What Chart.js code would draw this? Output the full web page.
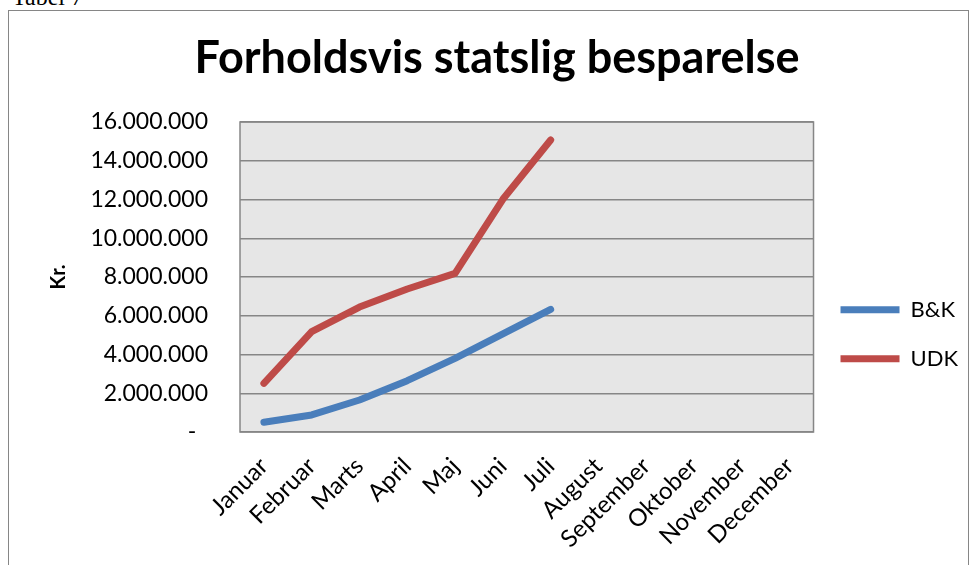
<!DOCTYPE html>
<html>
<head>
<meta charset="utf-8">
<script src="https://cdn.jsdelivr.net/npm/chart.js@4/dist/chart.umd.min.js"></script>
<style>
  body { margin: 0; background: #fff; overflow: hidden; }
  #caption { position: absolute; left: 12px; top: -16px; font: 24px "Liberation Serif", serif; color: #000; }
  #frame { position: absolute; left: 8px; top: 10px; width: 959px; height: 570px; border: 1px solid #868686; }
  #wrap { position: absolute; left: 0; top: 0; width: 959px; height: 554px; }
</style>
</head>
<body>
<div id="caption">Tabel 7</div>
<div id="frame"><div id="wrap"><canvas id="chart"></canvas></div></div>
<script>
// months on the x axis
var months = ['Januar', 'Februar', 'Marts', 'April', 'Maj', 'Juni', 'Juli',
  'August', 'September', 'Oktober', 'November', 'December'];

// savings in kr (only Jan-Jul have values)
var bkValues = [500000, 880000, 1650000, 2650000, 3800000, 5060000, 6330000];
var udkValues = [2510000, 5180000, 6450000, 7380000, 8190000, 12010000, 15070000];

var yTicks = [0, 2000000, 4000000, 6000000, 8000000, 10000000, 12000000, 14000000, 16000000];

function formatKr(v) {
  if (v === 0) return '-  ';
  return String(v).replace(/\B(?=(\d{3})+(?!\d))/g, '.');
}

// grey plot area with a border, like the Excel chart
var plotArea = {
  id: 'plotArea',
  beforeDraw: function(chart) {
    var a = chart.chartArea, ctx = chart.ctx;
    ctx.save();
    ctx.fillStyle = '#e6e6e6';
    ctx.fillRect(a.left, a.top, a.right - a.left, a.bottom - a.top);
    ctx.restore();
  },
  beforeDatasetsDraw: function(chart) {
    var a = chart.chartArea, ctx = chart.ctx;
    ctx.save();
    ctx.strokeStyle = '#868686';
    ctx.lineWidth = 1.5;
    ctx.strokeRect(a.left, a.top, a.right - a.left, a.bottom - a.top);
    ctx.restore();
  }
};

var ctx = document.getElementById('chart').getContext('2d');
var chart = new Chart(ctx, {
  type: 'line',
  data: {
    labels: months,
    datasets: [{
      label: 'B&K',
      data: bkValues,
      borderColor: '#4a7ebb',
      backgroundColor: '#4a7ebb',
      borderWidth: 7,
      borderCapStyle: 'round',
      borderJoinStyle: 'round',
      pointRadius: 0,
      fill: false
    }, {
      label: 'UDK',
      data: udkValues,
      borderColor: '#be4b48',
      backgroundColor: '#be4b48',
      borderWidth: 7,
      borderCapStyle: 'round',
      borderJoinStyle: 'round',
      pointRadius: 0,
      fill: false
    }]
  },
  plugins: [plotArea],
  options: {
    responsive: true,
    maintainAspectRatio: false,
    animation: false,
    // left padding nudges the centred title to the right
    layout: { padding: { left: 17, right: 0, top: 0, bottom: 0 } },
    plugins: {
      title: {
        display: true,
        text: 'Forholdsvis statslig besparelse',
        color: '#000',
        font: { family: 'Lato', size: 45, weight: 'bold' },
        padding: { top: 20, bottom: 37 }
      },
      legend: {
        position: 'right',
        // empty title only pushes the items down a bit
        title: { display: true, text: ' ', font: { size: 12 }, padding: { top: 78, bottom: 0 } },
        labels: {
          usePointStyle: true,
          pointStyle: 'line',
          pointStyleWidth: 59,
          color: '#000',
          font: { family: 'Lato', size: 22 },
          padding: 27
        }
      },
      tooltip: { enabled: false }
    },
    scales: {
      x: {
        offset: true,
        grid: { display: false },
        border: { display: false },
        ticks: {
          color: '#000',
          font: { family: 'Lato', size: 24 },
          minRotation: 45,
          maxRotation: 45,
          autoSkip: false,
          padding: 12
        },
        afterFit: function(scale) { scale.height = 133; }
      },
      y: {
        min: 0,
        max: 16000000,
        afterBuildTicks: function(scale) {
          scale.ticks = yTicks.map(function(v) { return { value: v }; });
        },
        grid: { color: '#868686', lineWidth: 1.5, drawTicks: false },
        border: { display: false },
        ticks: {
          color: '#000',
          font: { family: 'Lato', size: 23 },
          padding: 32,
          callback: function(v) { return formatKr(v); }
        },
        title: {
          display: true,
          text: 'Kr.',
          color: '#000',
          font: { family: 'Lato', size: 20, weight: 'bold' },
          padding: { top: 21, bottom: 0 }
        },
        afterFit: function(scale) { scale.width = 214; }
      }
    }
  }
});
</script>
</body>
</html>
